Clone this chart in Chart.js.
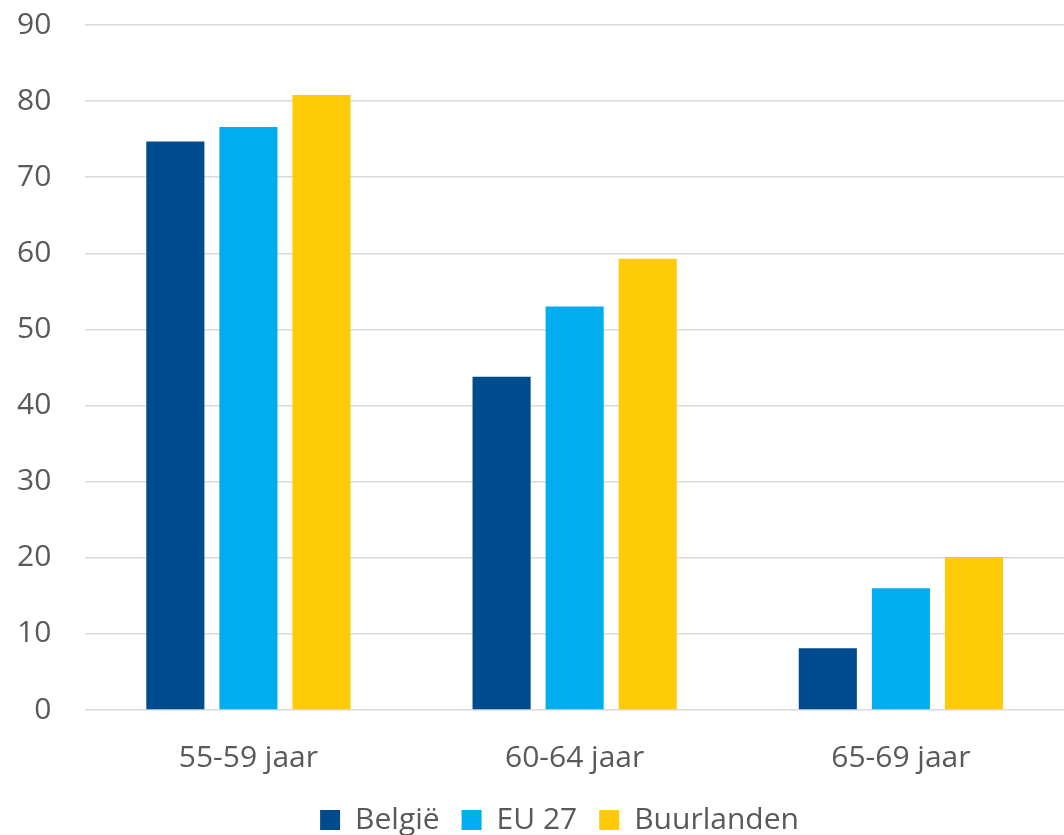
<!DOCTYPE html>
<html>
<head>
<meta charset="utf-8">
<script src="https://cdn.jsdelivr.net/npm/chart.js@4/dist/chart.umd.min.js"></script>
<style>
html,body{margin:0;padding:0;background:#fff;}
#wrap{width:1064px;height:835px;position:relative;}
</style>
</head>
<body>
<div id="wrap"><canvas id="c" width="1064" height="835"></canvas></div>
<script>
const categories = ["55-59 jaar", "60-64 jaar", "65-69 jaar"];
const belgie = [74.7, 43.8, 8.1];
const eu27 = [76.6, 53.0, 16.0];
const buurlanden = [80.8, 59.3, 20.1];
const seriesNames = ["België", "EU 27", "Buurlanden"];
const yTicks = [0, 10, 20, 30, 40, 50, 60, 70, 80, 90];

const FONT = "'Open Sans', 'Noto Sans', sans-serif";
const TXT = "#595959";

const legendShift = {
  id: 'legendShift',
  afterLayout(chart) {
    if (chart.legend) { chart.legend.left += 36; chart.legend.right += 36; }
  }
};

new Chart(document.getElementById('c'), {
  type: 'bar',
  data: {
    labels: categories,
    datasets: [
      { label: seriesNames[0], data: belgie, backgroundColor: '#004B8D' },
      { label: seriesNames[1], data: eu27, backgroundColor: '#00AEEF' },
      { label: seriesNames[2], data: buurlanden, backgroundColor: '#FFCA08' }
    ]
  },
  plugins: [legendShift],
  options: {
    responsive: false,
    animation: false,
    devicePixelRatio: 1,
    categoryPercentage: 0.672,
    barPercentage: 0.795,
    layout: { padding: { left: -17, right: 0, top: 25, bottom: -10 } },
    plugins: {
      tooltip: { enabled: false },
      legend: {
        position: 'bottom',
        labels: {
          boxWidth: 20,
          boxHeight: 20,
          padding: 22,
          color: TXT,
          font: { family: FONT, size: 30 }
        }
      }
    },
    scales: {
      x: {
        grid: { display: false, drawTicks: false },
        border: { display: false },
        ticks: { color: TXT, font: { family: FONT, size: 30 }, padding: 30 },
        afterFit: (axis) => { axis.height -= 23; }
      },
      y: {
        min: 0, max: 90,
        afterBuildTicks: (axis) => { axis.ticks = yTicks.map(v => ({ value: v })); },
        afterFit: (axis) => { axis.paddingTop = 0; axis.paddingBottom = 0; },
        grid: { color: '#d9d9d9', lineWidth: 1.5, drawTicks: false },
        border: { display: false },
        ticks: { color: TXT, font: { family: FONT, size: 30 }, padding: 34 }
      }
    }
  }
});
</script>
</body>
</html>
